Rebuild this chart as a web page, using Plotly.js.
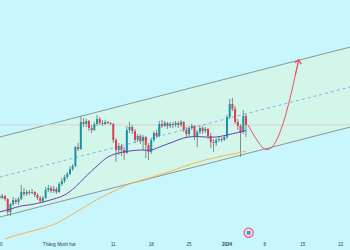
<!DOCTYPE html>
<html><head><meta charset="utf-8">
<script src="https://cdn.plot.ly/plotly-3.0.1.min.js"></script>
<style>html,body{margin:0;padding:0;background:#c7f7fc;}#chart{width:350px;height:250px;}</style>
</head><body><div id="chart"></div>
<script>
// ---- data (12h candles) ----
const candleStart = '2023-11-20 00:00';
const candleStepHours = 12;
const openP = [36960,36780,36960,36690,35520,36240,36600,36420,36690,37320,
37140,37320,37230,37320,37050,36780,36510,36780,37500,37680,
37410,37590,37320,38040,38310,38670,38940,39390,39660,41370,
41190,43620,43440,43710,43080,42900,43440,43890,43530,43440,
43620,43530,43440,42000,41100,41460,41100,40830,42900,43170,
42810,42000,42360,41910,42270,41550,40920,42000,42630,42360,
43440,43260,43530,43260,43440,43350,43530,43350,43620,42900,
42540,43080,43260,42360,42720,43080,42810,42990,42360,41820,
41730,42000,42090,42000,42270,44070,45240,44790,43620,43260,
42720,44160];
const highP = [37140,37140,37050,36780,36330,36870,36780,36870,37950,37680,
37500,37500,37590,37410,37230,36960,36960,37770,37950,37860,
37860,37770,38220,38580,38850,39120,39660,39840,41460,41730,
44160,43980,43890,43800,43350,43620,44250,44070,43800,43800,
43710,43620,43530,42180,41730,41640,41370,43260,43620,43350,
42990,42540,42540,42450,42360,41730,42180,42810,42900,43710,
43800,43710,43620,43620,43620,43710,43710,43800,43710,43170,
43260,43440,43350,42900,43260,43260,43170,43080,42630,42090,
42180,42270,42270,42450,44250,45690,45780,45060,43890,43440,
44700,44340];
const lowP = [36600,36690,36510,35160,35160,36060,36240,36150,36600,36960,
36960,37050,37140,36870,36600,36330,36330,36690,37320,37230,
37230,37140,37230,37860,38130,38490,38850,39210,39570,41010,
41100,43170,43170,42810,42630,42810,43260,43350,43260,43350,
43440,43350,41730,40020,40650,40560,40200,40740,42630,42540,
41730,41820,41640,41100,40380,40200,40740,41820,42180,42270,
43080,43170,42990,43080,43080,43170,43080,43170,42720,42270,
42270,42900,42000,41370,42540,42540,42630,42090,41280,40920,
41460,41820,41820,41910,42090,43890,44610,43440,42900,40470,
42540,42270];
const closeP = [36780,36960,36690,35520,36240,36600,36420,36690,37320,37140,
37320,37230,37320,37050,36780,36510,36780,37500,37680,37410,
37590,37320,38040,38310,38670,38940,39390,39660,41370,41190,
43620,43440,43710,43080,42900,43440,43890,43530,43440,43620,
43530,43440,42000,41100,41460,41100,40830,42900,43170,42810,
42000,42360,41910,42270,41550,40920,42000,42630,42360,43440,
43260,43530,43260,43440,43350,43530,43350,43620,42900,42540,
43080,43260,42360,42720,43080,42810,42990,42360,41820,41730,
42000,42090,42000,42270,44070,45240,44790,43620,43260,42630,
44160,43350];

// moving averages, read at candle indices
const maFastIdx = [0,4,8,12,16,20,24,28,32,36,40,44,48,52,56,60,64,68,72,76,80,84,88,91];
const maFast = [35520,35790,36060,36195,36420,36690,37050,37770,38760,39660,40470,40830,
41010,41100,41100,41460,41820,42180,42315,42270,42270,42450,42675,42855];
const maSlowIdx = [2,4,8,12,16,20,24,28,32,36,40,44,48,52,56,60,64,68,72,76,80,84,88,91];
const maSlow = [33090,33270,33540,33810,34080,34395,34890,35475,36060,36645,37140,37590,
38040,38355,38625,38940,39255,39615,39930,40200,40425,40650,40830,41010];

// parallel channel
const channelDates = ['2023-11-20 00:00','2024-01-25 00:00'];
const channelUpper = [42261, 50524];
const channelMid = [38661, 46924];
const channelLower = [35061, 43324];

// projected path (red)
const forecastDates = ['2024-01-04 21:00','2024-01-05 10:00','2024-01-06 04:00','2024-01-06 22:00',
'2024-01-07 16:00','2024-01-08 09:00','2024-01-09 03:00','2024-01-09 21:00','2024-01-10 14:00',
'2024-01-11 08:00','2024-01-12 02:00','2024-01-12 19:00','2024-01-13 13:00','2024-01-14 07:00'];
const forecastPrice = [43350,42900,42270,41730,41280,41145,41280,41730,42450,43440,44700,46050,47670,49290];

const eventDate = '2024-01-05 00:00';

const tickVals = ['2023-11-20 01:50','2023-12-01','2023-12-11','2023-12-18','2023-12-25','2024-01-01','2024-01-08','2024-01-15','2024-01-22'];
const tickText = ['20','Tháng Mười hai','11','18','25','<b>2024</b>','8','15','22'];

// ---- build ----
function addHours(base, h) {
  const d = new Date(base.replace(' ', 'T') + ':00Z');
  d.setUTCMinutes(d.getUTCMinutes() + Math.round(h * 60));
  return d.toISOString().slice(0, 16).replace('T', ' ');
}
const times = closeP.map((_, i) => addHours(candleStart, i * candleStepHours));
const lastClose = closeP[closeP.length - 1];

// wick and body segments (null-separated) so everything stays in scatter layer order
const wickX = [], wickY = [];
const upX = [], upY = [], dnX = [], dnY = [];
times.forEach((t, i) => {
  wickX.push(t, t, null); wickY.push(lowP[i], highP[i], null);
  const o = openP[i], c = closeP[i];
  let lo = Math.min(o, c), hi = Math.max(o, c);
  if (hi - lo < 90) { const m = (hi + lo) / 2; lo = m - 45; hi = m + 45; }
  if (c >= o) { upX.push(t, t, null); upY.push(lo, hi, null); }
  else { dnX.push(t, t, null); dnY.push(lo, hi, null); }
});

const TEAL = '#1597ab', RED = '#e23b52', WICK = '#7d8a8e';
const BG = '#c7f7fc', FILL = '#d3f6ea';

const traces = [
  {type:'scatter', mode:'lines', x:channelDates, y:channelLower, line:{color:'#8a9899', width:1}, hoverinfo:'skip'},
  {type:'scatter', mode:'lines', x:channelDates, y:channelUpper, line:{color:'#8a9899', width:1}, fill:'tonexty', fillcolor:FILL, hoverinfo:'skip'},
  {type:'scatter', mode:'lines', x:channelDates, y:[lastClose, lastClose], line:{color:'#d9d2d4', width:1}, hoverinfo:'skip'},
  {type:'scatter', mode:'lines', x:channelDates, y:channelMid, line:{color:'#86aef0', width:1, dash:'3px,3px'}, hoverinfo:'skip'},
  {type:'scatter', mode:'lines', x:wickX, y:wickY, line:{color:WICK, width:1}, connectgaps:false, hoverinfo:'skip'},
  {type:'scatter', mode:'lines', x:upX, y:upY, line:{color:TEAL, width:2}, connectgaps:false, hoverinfo:'skip'},
  {type:'scatter', mode:'lines', x:dnX, y:dnY, line:{color:RED, width:2}, connectgaps:false, hoverinfo:'skip'},
  {type:'scatter', mode:'lines', x:maSlowIdx.map(i => times[i]), y:maSlow, line:{color:'#f6b54a', width:1, shape:'spline'}, hoverinfo:'skip'},
  {type:'scatter', mode:'lines', x:maFastIdx.map(i => times[i]), y:maFast, line:{color:'#6a3fae', width:1, shape:'spline'}, hoverinfo:'skip'},
  {type:'scatter', mode:'lines', x:forecastDates, y:forecastPrice, line:{color:'#ef5066', width:1, shape:'spline'}, hoverinfo:'skip'},
  {type:'scatter', mode:'markers', x:[eventDate], y:[0.03], yaxis:'y2',
   marker:{size:9, color:'#f4f0f8', line:{color:'#ee6688', width:1.5}}, hoverinfo:'skip'},
  {type:'scatter', mode:'markers', x:[eventDate], y:[0.03], yaxis:'y2',
   marker:{size:4, color:'#5a8fd8', symbol:'square'}, hoverinfo:'skip'}
];

const n = forecastDates.length;
const layout = {
  width:350, height:250,
  margin:{l:0, r:0, t:0, b:10},
  paper_bgcolor:BG, plot_bgcolor:BG,
  showlegend:false,
  font:{family:'Liberation Sans, Arial, sans-serif', size:5, color:'#2a2e39'},
  xaxis:{type:'date', range:['2023-11-20 01:45','2024-01-23 17:15'],
    tickmode:'array', tickvals:tickVals, ticktext:tickText,
    showgrid:false, zeroline:false, showline:false, ticks:'',
    ticklabeloverflow:'allow',
    tickfont:{size:4.6, color:'#3a3e49'}},
  yaxis:{range:[33000, 54600], showgrid:false, zeroline:false, showticklabels:false, ticks:'', fixedrange:true},
  yaxis2:{overlaying:'y', range:[0,1], visible:false},
  annotations:[{x:forecastDates[n-1], y:forecastPrice[n-1], ax:forecastDates[n-2], ay:forecastPrice[n-2],
    xref:'x', yref:'y', axref:'x', ayref:'y', text:'', showarrow:true,
    arrowhead:4, arrowsize:1.3, arrowwidth:1, arrowcolor:'#ef5066'}]
};
Plotly.newPlot('chart', traces, layout, {staticPlot:true, displayModeBar:false});
</script>
</body></html>
